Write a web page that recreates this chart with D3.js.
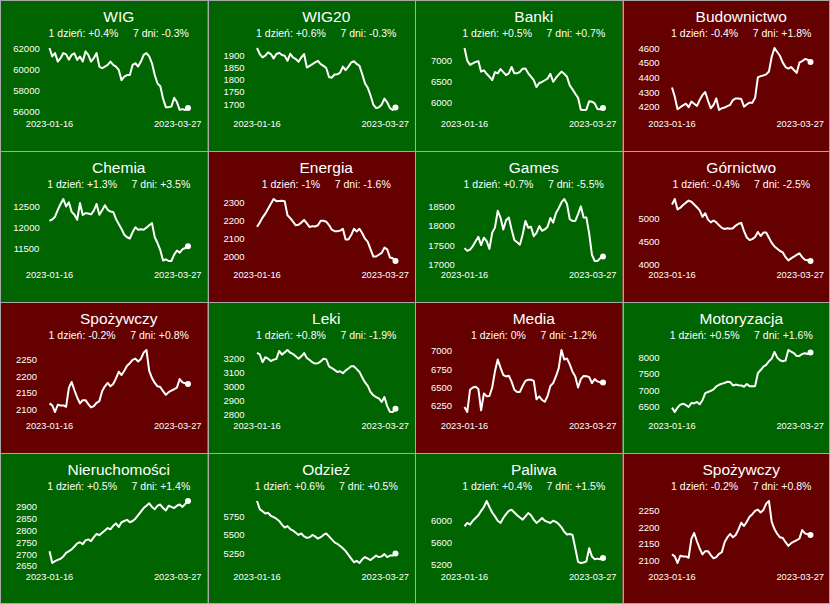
<!DOCTYPE html>
<html>
<head>
<meta charset="utf-8">
<script src="https://cdn.jsdelivr.net/npm/d3@7"></script>
<style>
  body { margin: 0; background: #fff; }
  svg { display: block; font-family: "Liberation Sans", Arial, sans-serif; }
  .subtitle { white-space: pre; }
</style>
</head>
<body>
<div id="chart"></div>
<script>
// Sesje od 2023-01-16 do 2023-03-27 (51 notowań)
const firstDate = '2023-01-16';
const lastDate = '2023-03-27';

const sectors = ['WIG', 'WIG20', 'Banki', 'Budownictwo', 'Chemia', 'Energia', 'Games', 'Górnictwo',
  'Spożywczy', 'Leki', 'Media', 'Motoryzacja', 'Nieruchomości', 'Odzież', 'Paliwa', 'Spożywczy'];
const change1d = [0.4, 0.6, 0.5, -0.4, 1.3, -1, 0.7, -0.4, -0.2, 0.8, 0, 0.5, 0.5, 0.6, 0.4, -0.2];
const change7d = [-0.3, -0.3, 0.7, 1.8, 3.5, -1.6, -5.5, -2.5, 0.8, -1.9, -1.2, 1.6, 1.4, 0.5, 1.5, 0.8];

const wig = [62000, 61200, 61520, 60720, 61040, 61520, 61400, 60900, 61360, 61500,
  60880, 61200, 60720, 61680, 61360, 60720, 61040, 61520, 60250, 60090,
  60250, 60400, 60720, 60400, 60250, 59930, 58970, 59290, 59450, 59450,
  60400, 60560, 60250, 60720, 61360, 61520, 61200, 60560, 59450, 58650,
  58400, 57220, 56420, 56420, 56480, 57310, 56900, 56160, 56230, 56150, 56350];
const wig20 = [1932, 1907, 1893, 1900, 1914, 1907, 1889, 1907, 1912, 1903,
  1900, 1879, 1908, 1893, 1886, 1875, 1893, 1907, 1851, 1858,
  1865, 1872, 1879, 1865, 1858, 1849, 1812, 1809, 1822, 1823,
  1830, 1855, 1840, 1855, 1872, 1877, 1866, 1858, 1823, 1785,
  1767, 1735, 1697, 1683, 1686, 1697, 1722, 1707, 1683, 1675, 1685];
const banki = [7300, 7000, 6900, 6936, 6970, 6990, 6740, 6770, 6690, 6620,
  6540, 6730, 6700, 6800, 6730, 6660, 6700, 6850, 6700, 6700,
  6736, 6810, 6816, 6700, 6620, 6540, 6376, 6472, 6496, 6536,
  6576, 6690, 6500, 6590, 6670, 6740, 6690, 6620, 6416, 6320,
  6216, 6120, 5840, 5832, 5840, 6040, 6030, 5990, 5856, 5850, 5880];
const budownictwo = [4330, 4268, 4182, 4196, 4208, 4220, 4196, 4234, 4220, 4205,
  4245, 4279, 4300, 4240, 4189, 4211, 4256, 4177, 4189, 4194,
  4203, 4212, 4245, 4256, 4256, 4252, 4200, 4215, 4227, 4227,
  4260, 4400, 4408, 4413, 4420, 4440, 4540, 4600, 4573, 4545,
  4500, 4470, 4460, 4470, 4450, 4430, 4500, 4510, 4525, 4520, 4505];
const chemia = [12156, 12188, 12254, 12418, 12560, 12680, 12500, 12600, 12370, 12300,
  12180, 12582, 12295, 12340, 12330, 12310, 12400, 12560, 12300, 12410,
  12530, 12420, 12377, 12370, 12200, 12080, 11960, 11820, 11760, 11730,
  11880, 12000, 11940, 11950, 11940, 11990, 12049, 12100, 11760, 11620,
  11450, 11200, 11229, 11188, 11188, 11340, 11440, 11390, 11470, 11500, 11541];
const energia = [2167, 2190, 2218, 2240, 2267, 2295, 2322, 2310, 2311, 2312,
  2310, 2231, 2215, 2195, 2175, 2178, 2190, 2205, 2185, 2165,
  2170, 2168, 2175, 2200, 2200, 2195, 2176, 2150, 2142, 2142,
  2145, 2155, 2095, 2095, 2120, 2155, 2140, 2155, 2130, 2100,
  2082, 2040, 2000, 2000, 2010, 2020, 2050, 2040, 1995, 1990, 1975];
const games = [17421, 17350, 17380, 17470, 17600, 17711, 17500, 17690, 17600, 17400,
  17816, 17950, 18386, 18211, 17904, 18140, 18211, 17900, 17630, 17570,
  17509, 17772, 18123, 17948, 17974, 17728, 17816, 17992, 17870, 17904,
  17975, 18200, 18080, 18320, 18450, 18600, 18690, 18561, 18167, 18123,
  18123, 18300, 18500, 18211, 18211, 17800, 17250, 17088, 17090, 17160, 17202];
const gornictwo = [5300, 5420, 5190, 5231, 5290, 5340, 5385, 5360, 5300, 5240,
  5170, 5030, 5110, 4970, 4910, 4950, 4910, 4845, 4790, 4765,
  4780, 4770, 4780, 4840, 4880, 4900, 4720, 4580, 4525, 4545,
  4590, 4700, 4612, 4687, 4687, 4575, 4463, 4385, 4335, 4285,
  4255, 4150, 4080, 4125, 4160, 4200, 4235, 4150, 4095, 4085, 4067];
const spozywczy = [2118, 2112, 2092, 2114, 2112, 2112, 2108, 2165, 2183, 2158,
  2136, 2118, 2128, 2128, 2116, 2106, 2110, 2120, 2125, 2155,
  2170, 2180, 2170, 2177, 2194, 2214, 2204, 2217, 2232, 2240,
  2250, 2254, 2245, 2253, 2272, 2280, 2217, 2195, 2180, 2170,
  2168, 2155, 2144, 2152, 2157, 2161, 2166, 2192, 2182, 2179, 2177];
const leki = [3241, 3230, 3175, 3210, 3200, 3183, 3193, 3198, 3255, 3229,
  3245, 3262, 3242, 3234, 3217, 3200, 3217, 3240, 3205, 3190,
  3174, 3165, 3167, 3180, 3200, 3195, 3144, 3133, 3120, 3105,
  3110, 3095, 3115, 3130, 3146, 3145, 3125, 3105, 3065, 3030,
  3005, 2960, 2938, 2925, 2915, 2890, 2925, 2860, 2820, 2818, 2841];
const media = [6236, 6167, 6470, 6500, 6510, 6480, 6190, 6420, 6382, 6384,
  6500, 6720, 6880, 6770, 6670, 6650, 6660, 6580, 6470, 6440,
  6440, 6520, 6590, 6606, 6606, 6590, 6340, 6380, 6330, 6306,
  6384, 6520, 6560, 6650, 6760, 7010, 6880, 6895, 6815, 6715,
  6650, 6500, 6615, 6658, 6652, 6644, 6560, 6614, 6583, 6569, 6569];
const motoryzacja = [6479, 6347, 6480, 6570, 6595, 6560, 6499, 6620, 6610, 6651,
  6580, 6702, 6915, 6950, 6985, 7030, 7120, 7170, 7205, 7225,
  7260, 7250, 7150, 7175, 7158, 7150, 7110, 7190, 7128, 7128,
  7128, 7520, 7615, 7720, 7770, 7880, 7960, 8160, 7990, 7910,
  7880, 7900, 8220, 8170, 8125, 8041, 8041, 8100, 8120, 8100, 8142];
const nieruchomosci = [2712, 2662, 2670, 2675, 2680, 2690, 2705, 2712, 2720, 2732,
  2745, 2750, 2742, 2758, 2762, 2755, 2772, 2785, 2780, 2790,
  2800, 2810, 2805, 2820, 2830, 2815, 2835, 2840, 2845, 2835,
  2840, 2850, 2865, 2880, 2895, 2905, 2915, 2900, 2890, 2905,
  2910, 2895, 2885, 2905, 2900, 2895, 2905, 2910, 2900, 2912, 2925];
const odziez = [5960, 5850, 5820, 5790, 5800, 5760, 5740, 5720, 5690, 5640,
  5600, 5620, 5580, 5560, 5530, 5500, 5520, 5480, 5460, 5470,
  5500, 5480, 5450, 5470, 5500, 5520, 5480, 5440, 5400, 5380,
  5350, 5320, 5280, 5230, 5180, 5130, 5150, 5120, 5170, 5200,
  5180, 5160, 5190, 5220, 5200, 5210, 5240, 5200, 5220, 5220, 5250];
const paliwa = [5900, 5960, 5930, 6000, 6050, 6100, 6180, 6250, 6360, 6250,
  6150, 6080, 6000, 5960, 6050, 6120, 6180, 6200, 6150, 6100,
  6060, 6020, 6080, 6140, 6100, 6020, 5960, 6000, 6050, 6000,
  5980, 5960, 6000, 5980, 5940, 5880, 5800, 5750, 5760, 5740,
  5500, 5250, 5230, 5240, 5260, 5500, 5350, 5300, 5310, 5300, 5320];

const series = [wig, wig20, banki, budownictwo, chemia, energia, games, gornictwo,
  spozywczy, leki, media, motoryzacja, nieruchomosci, odziez, paliwa, spozywczy];

const yTicks = [
  [56000, 58000, 60000, 62000],
  [1700, 1750, 1800, 1850, 1900],
  [6000, 6500, 7000],
  [4200, 4300, 4400, 4500, 4600],
  [11500, 12000, 12500],
  [2000, 2100, 2200, 2300],
  [17000, 17500, 18000, 18500],
  [4000, 4500, 5000],
  [2100, 2150, 2200, 2250],
  [2800, 2900, 3000, 3100, 3200],
  [6250, 6500, 6750, 7000],
  [6500, 7000, 7500, 8000],
  [2650, 2700, 2750, 2800, 2850, 2900],
  [5250, 5500, 5750],
  [5200, 5600, 6000],
  [2100, 2150, 2200, 2250]
];

const width = 830, height = 604, cols = 4, rows = 4;
const cellW = width / cols, cellH = height / rows;
const upColor = '#006400', downColor = '#640000';

const fmtPct = v => (v > 0 ? '+' : '') + v + '%';

const svg = d3.select('#chart').append('svg')
  .attr('width', width)
  .attr('height', height);

const x = d3.scaleLinear().domain([0, wig.length - 1]).range([49.5, 188]);
const line = d3.line().x((d, i) => x(i));

sectors.forEach((name, k) => {
  const values = series[k];
  const g = svg.append('g')
    .attr('transform', `translate(${(k % cols) * cellW},${Math.floor(k / cols) * cellH})`);

  g.append('rect')
    .attr('width', cellW)
    .attr('height', cellH)
    .attr('fill', change1d[k] > 0 ? upColor : downColor);

  const y = d3.scaleLinear().domain(d3.extent(values)).range([110, 48]);
  const midX = (x.range()[0] + x.range()[1]) / 2;

  g.append('text')
    .attr('x', midX).attr('y', 22)
    .attr('text-anchor', 'middle')
    .attr('fill', '#fff')
    .style('font-size', '15.5px')
    .text(name);

  g.append('text')
    .attr('class', 'subtitle')
    .attr('x', midX).attr('y', 37)
    .attr('text-anchor', 'middle')
    .attr('fill', '#fff')
    .style('font-size', '10.5px')
    .text(`1 dzień: ${fmtPct(change1d[k])}     7 dni: ${fmtPct(change7d[k])}`);

  // oś Y bez linii, same etykiety wyśrodkowane
  const axis = g.append('g')
    .attr('transform', 'translate(26.5,0)')
    .call(d3.axisLeft(y).tickValues(yTicks[k]).tickSize(0).tickPadding(0).tickFormat(d3.format('d')));
  axis.select('.domain').remove();
  axis.selectAll('text')
    .attr('text-anchor', 'middle')
    .attr('fill', '#fff')
    .style('font-size', '9.5px')
    .style('font-family', '"Liberation Sans", Arial, sans-serif');

  g.append('text')
    .attr('x', x(0)).attr('y', 127)
    .attr('text-anchor', 'middle')
    .attr('fill', '#fff')
    .style('font-size', '9.3px')
    .text(firstDate);

  g.append('text')
    .attr('x', cellW - 6).attr('y', 127)
    .attr('text-anchor', 'end')
    .attr('fill', '#fff')
    .style('font-size', '9.3px')
    .text(lastDate);

  g.append('path')
    .attr('d', line.y(d => y(d))(values))
    .attr('fill', 'none')
    .attr('stroke', '#fff')
    .attr('stroke-width', 2)
    .attr('stroke-linejoin', 'round');

  g.append('circle')
    .attr('cx', x(values.length - 1))
    .attr('cy', y(values[values.length - 1]))
    .attr('r', 3)
    .attr('fill', '#fff');
});

// siatka między panelami
const grid = svg.append('g').attr('stroke', '#a8a8a8').attr('stroke-width', 1);
d3.range(cols + 1).forEach(c => {
  const xx = Math.min(Math.max(Math.round(c * cellW) + 0.5, 0.5), width - 0.5);
  grid.append('line').attr('x1', xx).attr('x2', xx).attr('y1', 0).attr('y2', height);
});
d3.range(rows + 1).forEach(r => {
  const yy = Math.min(Math.max(Math.round(r * cellH) + 0.5, 0.5), height - 0.5);
  grid.append('line').attr('y1', yy).attr('y2', yy).attr('x1', 0).attr('x2', width);
});
</script>
</body>
</html>
